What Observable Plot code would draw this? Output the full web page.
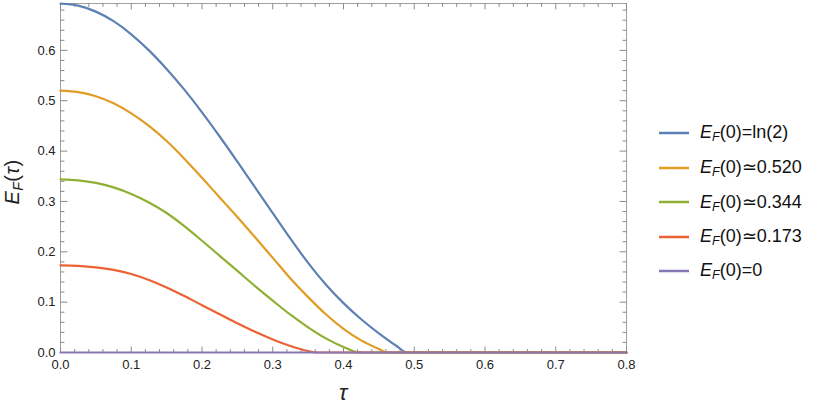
<!DOCTYPE html>
<html><head><meta charset="utf-8">
<script src="https://cdn.jsdelivr.net/npm/d3@7"></script>
<script src="https://cdn.jsdelivr.net/npm/@observablehq/plot@0.6"></script>
<style>
body{margin:0;background:#fff;font-family:"Liberation Sans",Arial,sans-serif;}
#wrap{position:relative;width:817px;height:407px;}
#legend{position:absolute;left:659px;top:116px;}
.row{display:flex;align-items:center;height:34.5px;font-size:18px;color:#111;white-space:nowrap}
.row svg{margin-right:11px}
.row sub{font-size:70%;vertical-align:-0.25em;font-style:italic}
</style></head><body><div id="wrap"><div id="legend"></div></div>
<script>
// series labels and colours
const seriesKeys = ["ln2", "0.520", "0.344", "0.173", "0"];
const seriesRel = ["=ln(2)", "\u22430.520", "\u22430.344", "\u22430.173", "=0"];
const seriesColors = ["#5E81B5", "#E19C24", "#8FB032", "#EB6235", "#8778B3"];

// tau values and E_F values
const tauBlue   = [0, 0.025, 0.05, 0.075, 0.1, 0.125, 0.15, 0.175, 0.2, 0.225, 0.25, 0.275, 0.3, 0.325, 0.35, 0.375, 0.4, 0.425, 0.45, 0.475, 0.49, 0.8];
const valBlue   = [0.693, 0.689, 0.677, 0.658, 0.632, 0.600, 0.563, 0.522, 0.477, 0.429, 0.379, 0.328, 0.277, 0.226, 0.178, 0.135, 0.098, 0.066, 0.038, 0.013, 0, 0];
const tauOrange = [0, 0.025, 0.05, 0.075, 0.1, 0.125, 0.15, 0.175, 0.2, 0.225, 0.25, 0.275, 0.3, 0.325, 0.35, 0.375, 0.4, 0.425, 0.45, 0.462, 0.8];
const valOrange = [0.520, 0.517, 0.509, 0.495, 0.475, 0.450, 0.420, 0.385, 0.347, 0.308, 0.269, 0.229, 0.188, 0.147, 0.110, 0.076, 0.047, 0.024, 0.007, 0, 0];
const tauGreen  = [0, 0.025, 0.05, 0.075, 0.1, 0.125, 0.15, 0.175, 0.2, 0.225, 0.25, 0.275, 0.3, 0.325, 0.35, 0.375, 0.4, 0.422, 0.8];
const valGreen  = [0.344, 0.342, 0.337, 0.328, 0.315, 0.298, 0.277, 0.251, 0.222, 0.192, 0.162, 0.132, 0.103, 0.075, 0.050, 0.028, 0.011, 0, 0];
const tauRed    = [0, 0.025, 0.05, 0.075, 0.1, 0.125, 0.15, 0.175, 0.2, 0.225, 0.25, 0.275, 0.3, 0.325, 0.35, 0.362, 0.8];
const valRed    = [0.173, 0.172, 0.169, 0.164, 0.156, 0.144, 0.129, 0.112, 0.094, 0.076, 0.058, 0.041, 0.026, 0.013, 0.003, 0, 0];
const tauPurple = [0, 0.8];
const valPurple = [0, 0];

// tick labels
const xTicks = [0, 0.1, 0.2, 0.3, 0.4, 0.5, 0.6, 0.7, 0.8];
const yTicks = [0, 0.1, 0.2, 0.3, 0.4, 0.5, 0.6];

const taus = [tauBlue, tauOrange, tauGreen, tauRed, tauPurple];
const vals = [valBlue, valOrange, valGreen, valRed, valPurple];
const rows = [];
seriesKeys.forEach((k, i) => taus[i].forEach((t, j) => rows.push({tau: t, v: vals[i][j], s: k})));

const xMax = 0.8, yMax = Math.LN2;
const xMinor = d3.range(0, 0.8001, 0.02).filter(d => Math.abs(d * 10 - Math.round(d * 10)) > 1e-6);
const yMinor = d3.range(0, yMax, 0.02).filter(d => Math.abs(d * 10 - Math.round(d * 10)) > 1e-6);

const tickShape = {draw(ctx, l) { ctx.moveTo(0, 0); ctx.lineTo(0, -l); }};
const tickCol = "#8a8a8a";
function ticks(data, dir, len) {
  const o = {length: len, anchor: "start", shape: tickShape, stroke: tickCol, strokeWidth: 1};
  if (dir === "b") return Plot.vector(data, {...o, x: d => d, y: () => 0, rotate: 0});
  if (dir === "t") return Plot.vector(data, {...o, x: d => d, y: () => yMax, rotate: 180});
  if (dir === "l") return Plot.vector(data, {...o, y: d => d, x: () => 0, rotate: 90});
  return Plot.vector(data, {...o, y: d => d, x: () => xMax, rotate: 270});
}

const plot = Plot.plot({
  width: 817, height: 407,
  marginLeft: 60, marginRight: 191, marginTop: 3, marginBottom: 55,
  style: {fontFamily: "'Liberation Sans', Arial, sans-serif", background: "#fff"},
  x: {domain: [0, xMax]},
  y: {domain: [0, yMax]},
  color: {domain: seriesKeys, range: seriesColors},
  marks: [
    Plot.frame({stroke: "#a0a0a0"}),
    ticks(xMinor, "b", 3), ticks(xTicks, "b", 5.5),
    ticks(xMinor, "t", 3), ticks(xTicks, "t", 5.5),
    ticks(yMinor, "l", 3.5), ticks(yTicks, "l", 6.5),
    ticks(yMinor, "r", 3.5), ticks(yTicks, "r", 6.5),
    Plot.axisX(xTicks, {tickSize: 0, tickPadding: 7, tickFormat: d3.format(".1f"), label: null, fontSize: 13, color: "#222"}),
    Plot.axisY(yTicks, {tickSize: 0, tickPadding: 5, tickFormat: d3.format(".1f"), label: null, fontSize: 13, color: "#222"}),
    Plot.line(rows, {x: "tau", y: "v", z: "s", stroke: "s", strokeWidth: 2.2, curve: "monotone-x", clip: false})
  ]
});
document.getElementById("wrap").prepend(plot);

const svg = d3.select(plot);
// x-axis label
svg.append("text")
  .attr("x", 343).attr("y", 400)
  .attr("text-anchor", "middle")
  .attr("font-size", 22).attr("font-style", "italic")
  .attr("fill", "#222")
  .attr("font-family", "'Liberation Sans', Arial, sans-serif")
  .text("\u03c4");
// y-axis label with subscript
const yl = svg.append("text")
  .attr("transform", "translate(19,182) rotate(-90)")
  .attr("text-anchor", "middle")
  .attr("font-size", 20)
  .attr("letter-spacing", 0.5)
  .attr("fill", "#222")
  .attr("font-family", "'Liberation Sans', Arial, sans-serif");
yl.append("tspan").attr("font-style", "italic").text("E");
yl.append("tspan").attr("font-style", "italic").attr("font-size", 14).attr("dy", 4).text("F");
yl.append("tspan").attr("dy", -4).text("(");
yl.append("tspan").attr("font-style", "italic").text("\u03c4");
yl.append("tspan").text(")");

// legend
const leg = d3.select("#legend");
seriesKeys.forEach((k, i) => {
  const r = leg.append("div").attr("class", "row");
  r.append("svg").attr("width", 30).attr("height", 6)
    .append("line").attr("x1", 0).attr("x2", 30).attr("y1", 3).attr("y2", 3)
    .attr("stroke", seriesColors[i]).attr("stroke-width", 2.5);
  r.append("span").html(`<i>E</i><sub>F</sub>(0)${seriesRel[i]}`);
});
</script>
</body></html>
